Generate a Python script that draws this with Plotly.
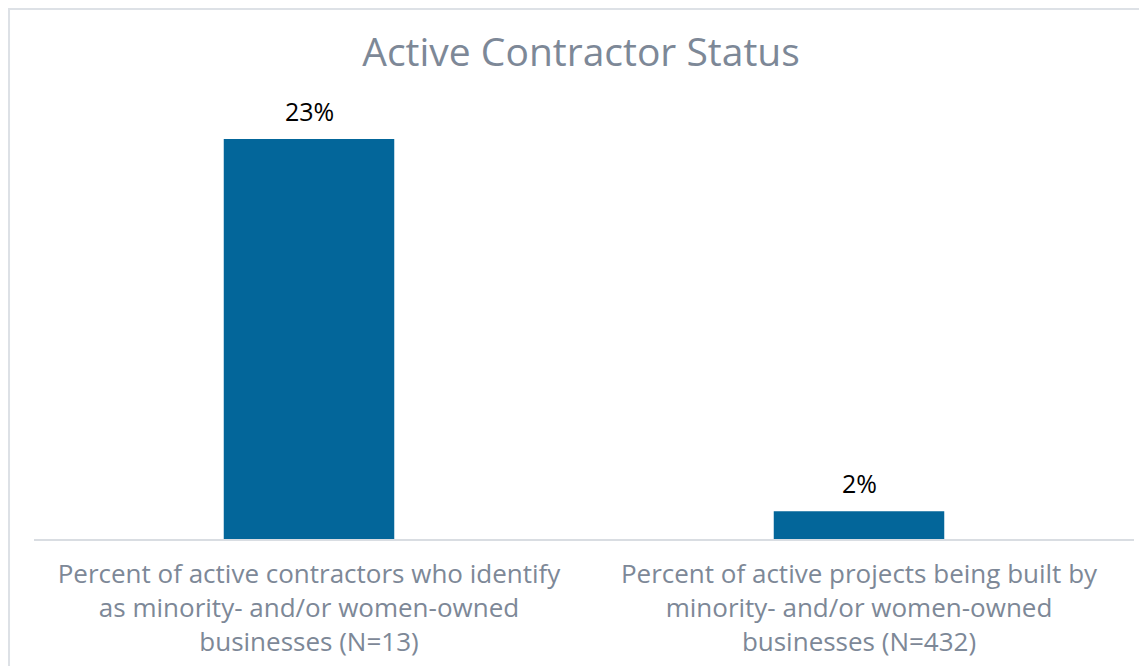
import plotly.graph_objects as go

categories = [
    "Percent of active contractors who identify<br>as minority- and/or women-owned<br>businesses (N=13)",
    "Percent of active projects being built by<br>minority- and/or women-owned<br>businesses (N=432)",
]
values = [0.231, 0.016]
value_labels = ["23%", "2%"]

BAR_COLOR = "#03669A"
GRAY_TEXT = "#7D8897"
FONT = "Open Sans"

fig = go.Figure()
fig.add_trace(go.Bar(
    x=categories, y=values, marker=dict(color=BAR_COLOR, line=dict(width=0)),
    width=0.31, hoverinfo="skip",
))

for c, v, t in zip(categories, values, value_labels):
    fig.add_annotation(x=c, y=v, text=t, showarrow=False, yanchor="bottom", yshift=9,
                       font=dict(family=FONT, size=25, color="#000000"))

fig.add_shape(type="rect", xref="paper", yref="paper", x0=-0.0227, x1=1.2, y0=-0.6, y1=1.224,
              line=dict(color="#DDE1E6", width=2), fillcolor="rgba(0,0,0,0)", layer="below")

fig.update_layout(
    width=1139, height=658,
    margin=dict(l=26, r=13, t=98, b=127),
    paper_bgcolor="white", plot_bgcolor="white",
    showlegend=False,
    title=dict(text="Active Contractor Status", x=0.5031, xanchor="center", y=0.9331, yanchor="middle",
               xref="container",
               font=dict(family=FONT, size=39, color=GRAY_TEXT)),
    xaxis=dict(showline=True, linecolor="#D9DDE2", linewidth=1.5, ticks="", showgrid=False,
               tickfont=dict(family=FONT, size=26, color=GRAY_TEXT), ticklabelstandoff=11,
               fixedrange=True, automargin=False),
    yaxis=dict(range=[0, 0.25], visible=False, showgrid=False, zeroline=False),
)

fig.write_html("out.html")
